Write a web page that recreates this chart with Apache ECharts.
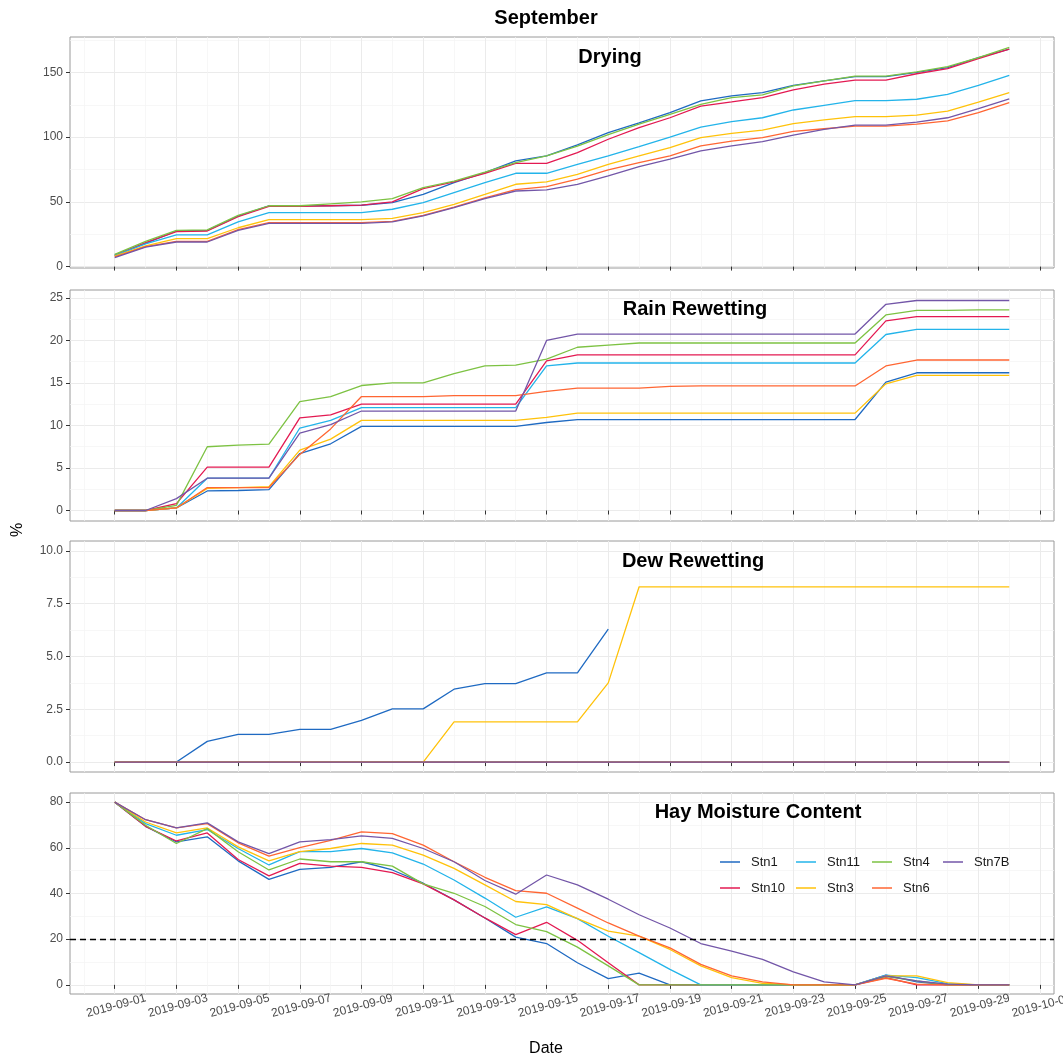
<!DOCTYPE html>
<html>
<head>
<meta charset="utf-8">
<title>September</title>
<script src="https://cdn.jsdelivr.net/npm/echarts@6/dist/echarts.min.js"></script>
<style>
  html, body { margin: 0; padding: 0; background: #ffffff; }
  #chart { width: 1063px; height: 1059px; }
</style>
</head>
<body>
<div id="chart"></div>
<script>
// ---- data -------------------------------------------------------------
const dates = [
  '2019-09-01','2019-09-02','2019-09-03','2019-09-04','2019-09-05','2019-09-06',
  '2019-09-07','2019-09-08','2019-09-09','2019-09-10','2019-09-11','2019-09-12',
  '2019-09-13','2019-09-14','2019-09-15','2019-09-16','2019-09-17','2019-09-18',
  '2019-09-19','2019-09-20','2019-09-21','2019-09-22','2019-09-23','2019-09-24',
  '2019-09-25','2019-09-26','2019-09-27','2019-09-28','2019-09-29','2019-09-30'
];
const xTickLabels = [
  '2019-09-01','2019-09-03','2019-09-05','2019-09-07','2019-09-09','2019-09-11',
  '2019-09-13','2019-09-15','2019-09-17','2019-09-19','2019-09-21','2019-09-23',
  '2019-09-25','2019-09-27','2019-09-29','2019-10-01'
];
const stations = ['Stn1', 'Stn10', 'Stn11', 'Stn3', 'Stn4', 'Stn6', 'Stn7B'];
const stationColors = ['#1f6ac2', '#e31a52', '#23b4ea', '#ffc20a', '#7dc243', '#ff6633', '#7356a8'];

// Drying (%)
const dryingStn1  = [9, 18, 27.5, 28, 39, 47, 47, 47, 47.4, 49.4, 55.8, 64.8, 72.6, 81.6, 85.5, 94, 103.5, 111, 119, 128, 131.9, 134.4, 140, 143.5, 146.8, 146.8, 150, 153.8, 161.5, 168];
const dryingStn10 = [8.5, 18.5, 27, 27.5, 38.5, 46.5, 46.5, 47, 47.5, 50, 60.2, 65.4, 72, 79.8, 79.8, 88, 98.4, 107.4, 115, 124, 127.2, 130.6, 136.5, 141, 144, 144, 149, 153, 160.7, 168];
const dryingStn11 = [8.5, 17.5, 24.5, 24.5, 34.5, 41.7, 41.7, 41.7, 41.7, 44.3, 49.4, 57.2, 64.9, 72.1, 72.1, 79, 85.5, 92.7, 100, 107.8, 112, 115, 121, 124.6, 128.2, 128.2, 129.3, 133, 140, 147.8];
const dryingStn3  = [8, 16, 21.6, 21.6, 30, 36.3, 36.3, 36.3, 36.3, 37.3, 41.7, 48.1, 55.8, 63.6, 65.5, 71.3, 79, 85.5, 92, 99.7, 103, 105.5, 110.5, 113.3, 115.8, 115.8, 117, 120.2, 127, 134.4];
const dryingStn4  = [9.5, 19.5, 28, 28.3, 39.5, 47, 47, 48.5, 50, 52.5, 61, 66, 73, 80.3, 85.5, 93, 102, 110, 117.6, 125.4, 130.6, 132.7, 139.6, 143.5, 147.2, 147.2, 150.4, 154.5, 161.5, 169.3];
const dryingStn6  = [7.5, 15.5, 19.5, 19.5, 28.5, 34, 34, 34, 34, 35, 39.6, 46, 53, 59.5, 61.8, 67.5, 74.7, 80.3, 85.5, 93.2, 97, 99.7, 104.4, 106.5, 108.6, 108.6, 110, 112.6, 119, 126.7];
const dryingStn7B = [7, 15, 19, 19, 28, 33.4, 33.4, 33.4, 33.4, 34.5, 39.1, 45.6, 52.5, 58.4, 59.2, 63.6, 70, 77.3, 83, 89.4, 93.2, 96.6, 101.5, 106, 109.3, 109.3, 111.7, 115, 122, 129.6];

// Rain rewetting (%)
const rainStn1  = [0, 0, 0.3, 2.3, 2.35, 2.45, 6.7, 7.85, 9.9, 9.9, 9.9, 9.9, 9.9, 9.9, 10.35, 10.7, 10.7, 10.7, 10.7, 10.7, 10.7, 10.7, 10.7, 10.7, 10.7, 15.1, 16.2, 16.2, 16.2, 16.2];
const rainStn10 = [0, 0, 0.8, 5.1, 5.1, 5.1, 10.9, 11.25, 12.5, 12.5, 12.5, 12.5, 12.5, 12.5, 17.6, 18.3, 18.3, 18.3, 18.3, 18.3, 18.3, 18.3, 18.3, 18.3, 18.3, 22.3, 22.8, 22.8, 22.8, 22.8];
const rainStn11 = [0, 0, 0.3, 3.8, 3.8, 3.8, 9.7, 10.6, 12.1, 12.1, 12.1, 12.1, 12.1, 12.1, 17.0, 17.35, 17.35, 17.35, 17.35, 17.35, 17.35, 17.35, 17.35, 17.35, 17.35, 20.7, 21.3, 21.3, 21.3, 21.3];
const rainStn3  = [0, 0, 0.3, 2.6, 2.7, 2.8, 7.1, 8.4, 10.6, 10.6, 10.6, 10.6, 10.6, 10.6, 10.95, 11.45, 11.45, 11.45, 11.45, 11.45, 11.45, 11.45, 11.45, 11.45, 11.45, 14.9, 15.9, 15.9, 15.9, 15.9];
const rainStn4  = [0, 0, 0.6, 7.5, 7.7, 7.8, 12.8, 13.4, 14.7, 15.0, 15.0, 16.1, 17.0, 17.1, 17.8, 19.2, 19.45, 19.7, 19.7, 19.7, 19.7, 19.7, 19.7, 19.7, 19.7, 23.0, 23.55, 23.55, 23.6, 23.6];
const rainStn6  = [0, 0, 0.3, 2.7, 2.7, 2.7, 6.6, 9.6, 13.4, 13.4, 13.4, 13.5, 13.5, 13.5, 14.0, 14.4, 14.4, 14.4, 14.6, 14.65, 14.65, 14.65, 14.65, 14.65, 14.65, 17.0, 17.7, 17.7, 17.7, 17.7];
const rainStn7B = [0, 0, 1.4, 3.8, 3.8, 3.8, 9.1, 10.1, 11.7, 11.7, 11.7, 11.7, 11.7, 11.7, 20.0, 20.75, 20.75, 20.75, 20.75, 20.75, 20.75, 20.75, 20.75, 20.75, 20.75, 24.25, 24.7, 24.7, 24.7, 24.7];

// Dew rewetting (%)
const dewStn1  = [0, 0, 0, 0.98, 1.31, 1.31, 1.55, 1.55, 1.98, 2.52, 2.52, 3.45, 3.72, 3.72, 4.22, 4.22, 6.3, null, null, null, null, null, null, null, null, null, null, null, null, null];
const dewStn10 = [0, 0, 0, 0, 0, 0, 0, 0, 0, 0, 0, 0, 0, 0, 0, 0, 0, 0, 0, 0, 0, 0, 0, 0, 0, 0, 0, 0, 0, 0];
const dewStn11 = [0, 0, 0, 0, 0, 0, 0, 0, 0, 0, 0, 0, 0, 0, 0, 0, 0, 0, 0, 0, 0, 0, 0, 0, 0, 0, 0, 0, 0, 0];
const dewStn3  = [0, 0, 0, 0, 0, 0, 0, 0, 0, 0, 0, 1.9, 1.9, 1.9, 1.9, 1.9, 3.75, 8.3, 8.3, 8.3, 8.3, 8.3, 8.3, 8.3, 8.3, 8.3, 8.3, 8.3, 8.3, 8.3];
const dewStn4  = [0, 0, 0, 0, 0, 0, 0, 0, 0, 0, 0, 0, 0, 0, 0, 0, 0, 0, 0, 0, 0, 0, 0, 0, 0, 0, 0, 0, 0, 0];
const dewStn6  = [0, 0, 0, 0, 0, 0, 0, 0, 0, 0, 0, 0, 0, 0, 0, 0, 0, 0, 0, 0, 0, 0, 0, 0, 0, 0, 0, 0, 0, 0];
const dewStn7B = [0, 0, 0, 0, 0, 0, 0, 0, 0, 0, 0, 0, 0, 0, 0, 0, 0, 0, 0, 0, 0, 0, 0, 0, 0, 0, 0, 0, 0, 0];

// Hay moisture content (%)
const hayStn1  = [80, 69.4, 62.6, 64.8, 54.3, 46.2, 50.6, 51.4, 53.9, 50.3, 44.5, 37.2, 29.3, 20.9, 18.1, 9.7, 2.75, 5.1, 0, 0, 0, 0, 0, 0, 0, 4.3, 1.3, 0, 0, 0];
const hayStn10 = [80, 69.4, 63, 66.5, 54.9, 47.7, 53.2, 52, 51.4, 49.1, 44.2, 37.2, 29.3, 22, 27.4, 19.5, 9.7, 0, 0, 0, 0, 0, 0, 0, 0, 3.2, 0, 0, 0, 0];
const hayStn11 = [80, 70.6, 65.5, 68, 59.7, 52.5, 58.3, 58.3, 59.7, 57.8, 52.9, 45.9, 38, 29.6, 34.1, 29, 21.3, 14.1, 6.8, 0, 0, 0, 0, 0, 0, 4.3, 3.2, 0.5, 0, 0];
const hayStn3  = [80, 71.3, 66.5, 68.7, 60.4, 54.3, 58.3, 59.7, 61.9, 61.2, 56.8, 51, 43.8, 36.5, 35.1, 29, 23.5, 21.3, 15.5, 8.3, 3.2, 0.7, 0, 0, 0, 3.9, 3.9, 1, 0, 0];
const hayStn4  = [80, 69.9, 61.9, 68.4, 58.3, 50.3, 55.1, 53.9, 53.9, 52, 44.2, 40.1, 34.3, 26.4, 23.3, 16.5, 8.3, 0, 0, 0, 0, 0, 0, 0, 0, 3.6, 1.7, 0, 0, 0];
const hayStn6  = [80, 72.3, 68.7, 70.6, 62.2, 56.4, 60.1, 63.3, 67, 66.2, 61.2, 53.9, 47.1, 41.3, 40.1, 33.6, 27.1, 21.3, 16.2, 9, 3.9, 1.3, 0, 0, 0, 2.9, 0.3, 0, 0, 0];
const hayStn7B = [80, 72.3, 68.7, 70.9, 62.6, 57.5, 62.6, 63.6, 65.2, 64.1, 59.7, 53.9, 45.7, 39.7, 48.1, 43.8, 37.5, 30.7, 24.9, 18.1, 14.8, 11.2, 5.7, 1.3, 0, 3.9, 1.7, 0.3, 0, 0];

// Y-axis tick values per panel
const dryingTicks = [0, 50, 100, 150];
const rainTicks   = [0, 5, 10, 15, 20, 25];
const dewTicks    = [0, 2.5, 5, 7.5, 10];
const hayTicks    = [0, 20, 40, 60, 80];
const hayThreshold = 20;

// ---- layout & styling -------------------------------------------------
const FONT = '"Liberation Sans", Arial, Helvetica, sans-serif';
const DAY = 86400000;
const toTime = s => Date.parse(s + 'T00:00:00Z');
const fmtDate = v => new Date(v).toISOString().slice(0, 10);

// x positions are UTC timestamps on a linear value axis
const xMin = toTime(dates[0]) - 1.45 * DAY;
const xMax = toTime(dates[dates.length - 1]) + 1.45 * DAY;
const xMajor = xTickLabels.map(toTime);
const xMinor = xMajor.map(t => t - DAY).filter(t => t > xMin && t < xMax);

const panels = [
  { title: 'Drying', series: [dryingStn1, dryingStn10, dryingStn11, dryingStn3, dryingStn4, dryingStn6, dryingStn7B],
    ticks: dryingTicks, min: -1.1, max: 177.4, top: 37, height: 231, tx: 610, ty: 57, fmt: v => String(v) },
  { title: 'Rain Rewetting', series: [rainStn1, rainStn10, rainStn11, rainStn3, rainStn4, rainStn6, rainStn7B],
    ticks: rainTicks, min: -1.235, max: 25.935, top: 290, height: 231, tx: 695, ty: 309, fmt: v => String(v) },
  { title: 'Dew Rewetting', series: [dewStn1, dewStn10, dewStn11, dewStn3, dewStn4, dewStn6, dewStn7B],
    ticks: dewTicks, min: -0.47, max: 10.47, top: 541, height: 231, tx: 693, ty: 561, fmt: v => v.toFixed(1) },
  { title: 'Hay Moisture Content', series: [hayStn1, hayStn10, hayStn11, hayStn3, hayStn4, hayStn6, hayStn7B],
    ticks: hayTicks, min: -4, max: 84, top: 793, height: 201, tx: 758, ty: 812, fmt: v => String(v) }
];

// minor grid values sit halfway between major ticks
function minorOf(ticks, min, max) {
  const step = ticks[1] - ticks[0];
  const out = [];
  for (let v = ticks[0] - step / 2; v < max; v += step) {
    if (v > min) out.push(v);
  }
  return out;
}

const MAJOR_GRID = '#ebebeb';
const MINOR_GRID = '#f4f4f4';
const TICK_COLOR = '#333333';

const grid = [], xAxis = [], yAxis = [], series = [], graphic = [];

panels.forEach((p, gi) => {
  grid.push({
    left: 70, right: 9, top: p.top, height: p.height,
    show: true, borderColor: '#9a9a9a', borderWidth: 1, backgroundColor: 'transparent',
    containLabel: false, outerBoundsMode: 'none'
  });
  const isLast = gi === panels.length - 1;

  // main x axis (major grid, ticks, labels on the bottom panel)
  xAxis.push({
    type: 'value', gridIndex: gi, min: xMin, max: xMax, position: 'bottom',
    axisLine: { show: false },
    axisTick: { show: true, customValues: xMajor, length: 4, lineStyle: { color: TICK_COLOR, width: 1 } },
    axisLabel: {
      show: isLast, customValues: xMajor, formatter: v => fmtDate(v),
      rotate: 15, align: 'center', verticalAlign: 'top', margin: 6,
      color: '#4d4d4d', fontSize: 12, fontFamily: FONT, hideOverlap: false
    },
    splitLine: { show: true, lineStyle: { color: MAJOR_GRID, width: 1 } }
  });
  // minor x grid
  xAxis.push({
    type: 'value', gridIndex: gi, min: xMin, max: xMax, position: 'top',
    axisLine: { show: false },
    axisTick: { show: false, customValues: xMinor },
    axisLabel: { show: false, customValues: xMinor },
    splitLine: { show: true, lineStyle: { color: MINOR_GRID, width: 0.7 } }
  });

  // main y axis
  yAxis.push({
    type: 'value', gridIndex: gi, min: p.min, max: p.max, position: 'left',
    axisLine: { show: false },
    axisTick: { show: true, customValues: p.ticks, length: 4, lineStyle: { color: TICK_COLOR, width: 1 } },
    axisLabel: { show: true, customValues: p.ticks, formatter: v => p.fmt(v), margin: 7,
      color: '#4d4d4d', fontSize: 12, fontFamily: FONT },
    splitLine: { show: true, lineStyle: { color: MAJOR_GRID, width: 1 } }
  });
  // minor y grid
  const yMinor = minorOf(p.ticks, p.min, p.max);
  yAxis.push({
    type: 'value', gridIndex: gi, min: p.min, max: p.max, position: 'right',
    axisLine: { show: false },
    axisTick: { show: false, customValues: yMinor },
    axisLabel: { show: false, customValues: yMinor },
    splitLine: { show: true, lineStyle: { color: MINOR_GRID, width: 0.7 } }
  });

  stations.forEach((name, si) => {
    const values = p.series[si];
    const s = {
      name: name, type: 'line', xAxisIndex: gi * 2, yAxisIndex: gi * 2,
      data: dates.map((d, k) => [toTime(d), values[k]]),
      symbol: 'none', showSymbol: false, connectNulls: false,
      color: stationColors[si],
      lineStyle: { color: stationColors[si], width: 1.3 },
      emphasis: { disabled: true }, silent: true, animation: false, z: 2
    };
    if (isLast && si === stations.length - 1) {
      s.markLine = {
        silent: true, symbol: 'none', animation: false,
        label: { show: false },
        lineStyle: { color: '#000000', type: [6, 4], width: 1.3 },
        emphasis: { disabled: true },
        data: [{ yAxis: hayThreshold }]
      };
    }
    series.push(s);
  });

  graphic.push({
    type: 'text', x: p.tx, y: p.ty, silent: true, z: 100,
    style: { text: p.title, fill: '#000000', font: 'bold 20px ' + FONT, textAlign: 'center', textVerticalAlign: 'middle' }
  });
});

// figure title and axis names
graphic.push({
  type: 'text', x: 546, y: 18, silent: true,
  style: { text: 'September', fill: '#000000', font: 'bold 20px ' + FONT, textAlign: 'center', textVerticalAlign: 'middle' }
});
graphic.push({
  type: 'text', x: 546, y: 1049, silent: true,
  style: { text: 'Date', fill: '#000000', font: '16px ' + FONT, textAlign: 'center', textVerticalAlign: 'middle' }
});
graphic.push({
  type: 'text', x: 18, y: 530, rotation: Math.PI / 2, silent: true,
  style: { text: '%', fill: '#000000', font: '16px ' + FONT, textAlign: 'center', textVerticalAlign: 'middle' }
});

// legend laid out in columns: (Stn1, Stn10) (Stn11, Stn3) (Stn4, Stn6) (Stn7B)
const legendColumns = [['Stn1', 'Stn10'], ['Stn11', 'Stn3'], ['Stn4', 'Stn6'], ['Stn7B']];
const legendLefts = [720, 796, 872, 943];
const legend = legendColumns.map((col, ci) => ({
  orient: 'vertical', left: legendLefts[ci], top: 854, padding: 0,
  itemWidth: 20, itemHeight: 1.5, itemGap: 10, icon: 'rect',
  selectedMode: false, data: col,
  textStyle: { fontSize: 13, lineHeight: 16, color: '#1a1a1a', fontFamily: FONT, padding: [0, 0, 0, 6] }
}));

const chart = echarts.init(document.getElementById('chart'), null, { renderer: 'canvas' });
chart.setOption({
  backgroundColor: '#ffffff',
  animation: false,
  textStyle: { fontFamily: FONT },
  grid, xAxis, yAxis, series, legend, graphic,
  tooltip: { show: false }
});
</script>
</body>
</html>
